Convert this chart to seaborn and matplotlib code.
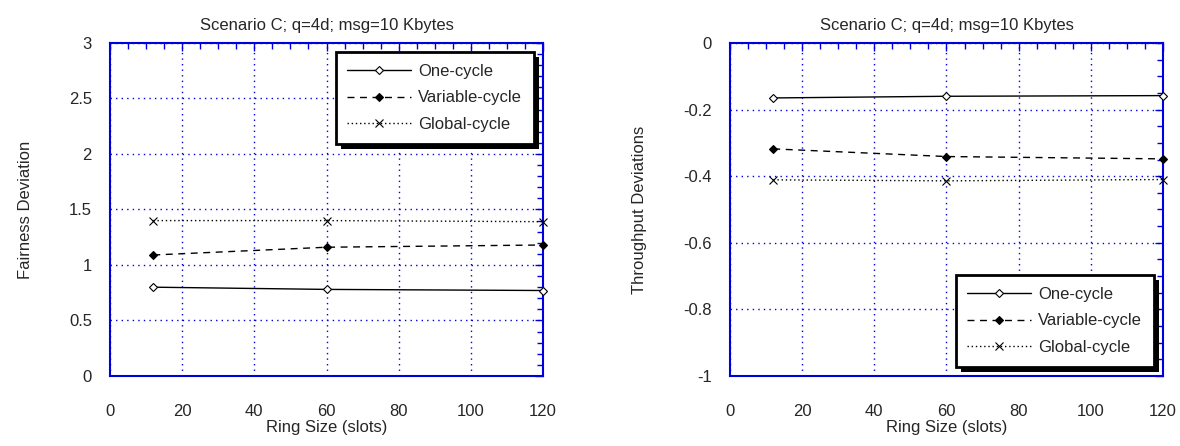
import pandas as pd
import matplotlib
matplotlib.use('Agg')
import matplotlib.pyplot as plt
from matplotlib.patches import Rectangle
from matplotlib.ticker import MultipleLocator, FuncFormatter
import seaborn as sns

# Data
ring_size = [12, 60, 120]
series_names = ['One-cycle', 'Variable-cycle', 'Global-cycle']

fair_one = [0.80, 0.78, 0.77]
fair_var = [1.09, 1.16, 1.18]
fair_glob = [1.40, 1.40, 1.39]

thr_one = [-0.165, -0.160, -0.158]
thr_var = [-0.318, -0.341, -0.348]
thr_glob = [-0.411, -0.414, -0.410]

title = 'Scenario C; q=4d; msg=10 Kbytes'
xlabel = 'Ring Size (slots)'

sns.set_style('white')
plt.rcParams['font.family'] = ['Liberation Sans', 'DejaVu Sans']

styles = {
    'One-cycle': dict(linestyle='-', marker='D', markerfacecolor='white', markersize=4),
    'Variable-cycle': dict(linestyle=(0, (5, 4)), marker='D', markerfacecolor='black', markersize=4.5),
    'Global-cycle': dict(linestyle=(0, (1, 2)), marker='x', markerfacecolor='black', markersize=6),
}

fig = plt.figure(figsize=(11.8, 4.46), dpi=100)
ax1 = fig.add_axes([0.0932, 0.157, 0.367, 0.7466])
ax2 = fig.add_axes([0.6186, 0.157, 0.367, 0.7466])

plain = FuncFormatter(lambda v, pos: '%g' % round(v, 6))


def draw(ax, values, ylim, major, minor, ylab, legend_loc):
    for name, vals in zip(series_names, values):
        df = pd.DataFrame({'x': ring_size, 'y': vals})
        sns.lineplot(data=df, x='x', y='y', ax=ax, color='black', linewidth=1,
                     markeredgecolor='black', markeredgewidth=0.8, label=name,
                     clip_on=False, zorder=3, **styles[name])
    ax.set_xlim(0, 120)
    ax.set_ylim(*ylim)
    ax.xaxis.set_major_locator(MultipleLocator(20))
    ax.xaxis.set_minor_locator(MultipleLocator(5))
    ax.yaxis.set_major_locator(MultipleLocator(major))
    ax.yaxis.set_minor_locator(MultipleLocator(minor))
    ax.xaxis.set_major_formatter(plain)
    ax.yaxis.set_major_formatter(plain)
    ax.grid(True, which='major', color='#0000dd', linestyle=(0, (1, 3)), linewidth=1)
    ax.tick_params(which='both', direction='in', top=True, right=True, color='#0000dd',
                   labelsize=12, width=1)
    ax.tick_params(which='major', length=6)
    ax.tick_params(axis='y', which='major', pad=13)
    ax.tick_params(axis='x', which='major', pad=20)
    ax.tick_params(which='minor', length=4)
    for s in ax.spines.values():
        s.set_color('#0000dd')
        s.set_linewidth(1.5)
        s.set_visible(True)
    ax.set_title(title, fontsize=12, pad=9)
    ax.set_xlabel(xlabel, fontsize=12, labelpad=1)
    ax.set_ylabel(ylab, fontsize=12, labelpad=26)
    leg = ax.legend(loc=legend_loc, fontsize=12, handlelength=3.8, handletextpad=0.45,
                    borderpad=0.7, labelspacing=0.7, fancybox=False, framealpha=1,
                    borderaxespad=0.55)
    leg.get_frame().set_edgecolor('black')
    leg.get_frame().set_linewidth(2)
    leg.set_zorder(5)
    return leg


legends = [
    (ax1, draw(ax1, [fair_one, fair_var, fair_glob], (0, 3), 0.5, 0.1,
               'Fairness Deviation', 'upper right')),
    (ax2, draw(ax2, [thr_one, thr_var, thr_glob], (-1, 0), 0.2, 0.05,
               'Throughput Deviations', 'lower right')),
]

# solid black drop shadow behind each legend box
fig.canvas.draw()
for ax, leg in legends:
    bb = leg.get_frame().get_window_extent()
    ax.add_patch(Rectangle((bb.x0 + 5, bb.y0 - 5), bb.width, bb.height, transform=None,
                           facecolor='black', edgecolor='none', zorder=4.9, clip_on=False))

fig.savefig('out.png', dpi=100)
